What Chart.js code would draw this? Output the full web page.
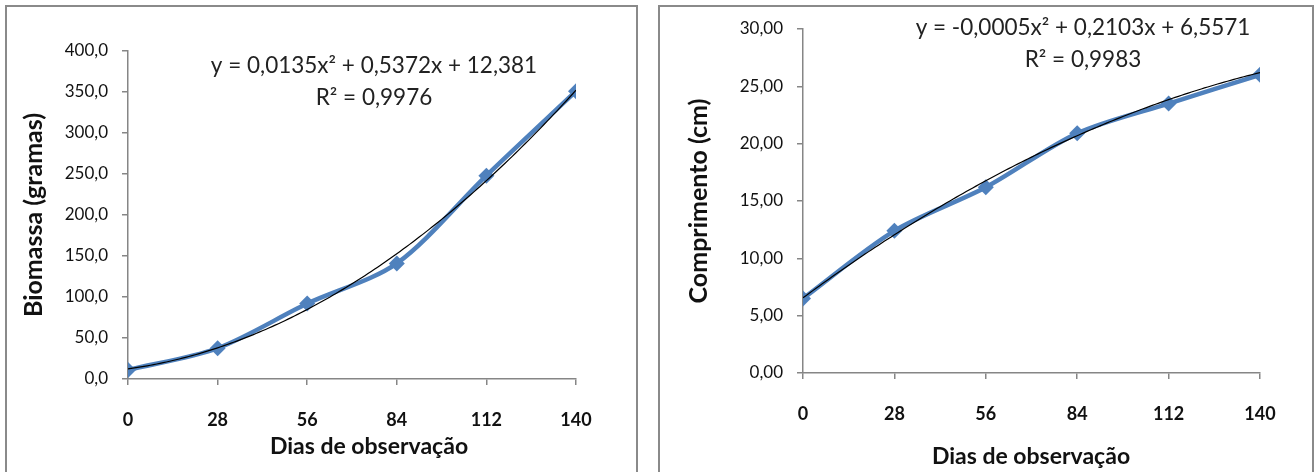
<!DOCTYPE html>
<html>
<head>
<meta charset="utf-8">
<script src="https://cdn.jsdelivr.net/npm/chart.js@4"></script>
<style>
  html, body { margin: 0; padding: 0; background: #fff; }
  body { width: 1315px; height: 472px; position: relative; overflow: hidden; }
  .frame { position: absolute; border: 2px solid #8a8a8a; box-sizing: border-box; background: #fff; }
  .wrap { position: absolute; top: 0; }
  canvas { display: block; }
</style>
</head>
<body>
<div class="frame" style="left:5px; top:5px; width:633px; height:480px;"></div>
<div class="frame" style="left:658px; top:5px; width:656px; height:480px;"></div>
<div class="wrap" style="left:0px; width:640px; height:472px;"><canvas id="biomassa"></canvas></div>
<div class="wrap" style="left:655px; width:660px; height:472px;"><canvas id="comprimento"></canvas></div>
<script>
// Observation days (x axis)
const dias = [0, 28, 56, 84, 112, 140];

// Measured biomass (g) and length (cm)
const biomassa = [11.0, 37.5, 92.0, 141.0, 248.0, 351.0];
const comprimento = [6.5, 12.4, 16.2, 20.9, 23.5, 26.0];

// Fitted polynomial coefficients [a, b, c] for y = a·x² + b·x + c
const coefBiomassa = [0.0135, 0.5372, 12.381];
const coefComprimento = [-0.0005, 0.2103, 6.5571];

// Equation and R² labels
const eqBiomassa = ['y = 0,0135x² + 0,5372x + 12,381', 'R² = 0,9976'];
const eqComprimento = ['y = -0,0005x² + 0,2103x + 6,5571', 'R² = 0,9983'];

// Axis tick values
const ticksBiomassa = [0, 50, 100, 150, 200, 250, 300, 350, 400];
const ticksComprimento = [0, 5, 10, 15, 20, 25, 30];

const xTitle = 'Dias de observação';

const FONT = 'Lato, "Open Sans", sans-serif';
const AXIS = '#868686';
const BLUE = '#4F81BD';

function trendPoints(coef) {
  const pts = [];
  for (let x = dias[0]; x <= dias[dias.length - 1]; x += 2) {
    pts.push({ x: x, y: coef[0] * x * x + coef[1] * x + coef[2] });
  }
  return pts;
}

function makeChart(id, values, coef, eqText, yTicks, yDecimals, yTitle, g) {
  const pts = dias.map((d, i) => ({ x: d, y: values[i] }));
  // Trendline equation, R² and the x-axis caption
  const textPlugin = {
    id: 'labels_' + id,
    afterDatasetsDraw(chart) {
      const ctx = chart.ctx;
      ctx.save();
      ctx.textAlign = 'center';
      ctx.textBaseline = 'middle';
      ctx.fillStyle = '#222';
      ctx.font = '22.5px ' + FONT;
      ctx.fillText(eqText[0], g.eqX, g.eqY1);
      ctx.fillText(eqText[1], g.eqX, g.eqY2);
      ctx.fillStyle = '#111';
      ctx.font = 'bold 23px ' + FONT;
      ctx.fillText(xTitle, g.xtX, g.xtY);
      ctx.restore();
    }
  };
  return new Chart(document.getElementById(id), {
    type: 'line',
    data: {
      datasets: [
        {
          label: 'Polinomial',
          data: trendPoints(coef),
          borderColor: '#000',
          borderWidth: 1.2,
          pointRadius: 0,
          tension: 0.3,
          order: 0
        },
        {
          label: yTitle,
          data: pts,
          borderColor: BLUE,
          backgroundColor: BLUE,
          borderWidth: 4.5,
          pointStyle: 'rectRot',
          pointRadius: 8,
          pointBorderWidth: 0,
          tension: 0.3,
          order: 1
        }
      ]
    },
    options: {
      responsive: true,
      maintainAspectRatio: false,
      animation: false,
      events: [],
      layout: { padding: { left: 0, right: g.padRight, top: g.padTop, bottom: 0 } },
      plugins: { legend: { display: false }, tooltip: { enabled: false } },
      scales: {
        x: {
          type: 'linear',
          min: dias[0],
          max: dias[dias.length - 1],
          afterBuildTicks(scale) { scale.ticks = dias.map(v => ({ value: v })); },
          afterFit(scale) { scale.height = g.xHeight; },
          border: { display: true, color: AXIS, width: 1.5 },
          grid: { display: true, drawOnChartArea: false, drawTicks: true, tickLength: 6, color: AXIS, lineWidth: 1.5 },
          ticks: {
            color: '#111',
            padding: 24,
            maxRotation: 0,
            font: { family: FONT, size: 18, weight: 'bold' },
            callback: v => String(v)
          }
        },
        y: {
          min: yTicks[0],
          max: yTicks[yTicks.length - 1],
          afterBuildTicks(scale) { scale.ticks = yTicks.map(v => ({ value: v })); },
          afterFit(scale) { scale.width = g.yWidth; },
          border: { display: true, color: AXIS, width: 1.5 },
          grid: { display: true, drawOnChartArea: false, drawTicks: true, tickLength: 6, color: AXIS, lineWidth: 1.5 },
          ticks: {
            color: '#111',
            padding: 14,
            font: { family: FONT, size: 17 },
            callback: v => v.toFixed(yDecimals).replace('.', ',')
          },
          title: {
            display: true,
            text: yTitle,
            color: '#111',
            font: { family: FONT, size: 25, weight: 'bold' },
            padding: { top: g.yTitlePad, bottom: 0 }
          }
        }
      }
    },
    plugins: [textPlugin]
  });
}

makeChart('biomassa', biomassa, coefBiomassa, eqBiomassa, ticksBiomassa, 1, 'Biomassa (gramas)', {
  padRight: 64, padTop: 51, xHeight: 93, yWidth: 128, yTitlePad: 19,
  eqX: 374, eqY1: 66, eqY2: 98, xtX: 369, xtY: 447
});
makeChart('comprimento', comprimento, coefComprimento, eqComprimento, ticksComprimento, 2, 'Comprimento (cm)', {
  padRight: 55, padTop: 29, xHeight: 99, yWidth: 148, yTitlePad: 29,
  eqX: 428, eqY1: 28, eqY2: 60, xtX: 376, xtY: 457
});
</script>
</body>
</html>
